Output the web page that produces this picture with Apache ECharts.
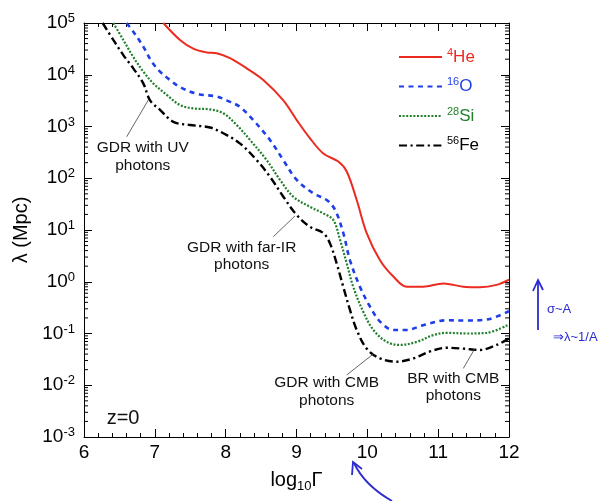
<!DOCTYPE html>
<html><head><meta charset="utf-8">
<script src="https://cdn.jsdelivr.net/npm/echarts@6/dist/echarts.min.js"></script>
<style>html,body{margin:0;padding:0;background:#fff}#c{width:613px;height:501px}</style>
</head><body><div id="c"></div>
<script>
// ---- data (x = log10 Gamma, y = lambda in Mpc) ----
const heX = [7.12, 7.355, 7.543, 7.732, 7.873, 8.061, 8.297, 8.531, 8.814, 9.003, 9.191, 9.379, 9.59, 9.709, 9.85, 9.991, 10.179, 10.367, 10.556, 10.79, 11.073, 11.355, 11.59, 11.826, 12.0];
const heY = [1e5, 4.7e4, 3.2e4, 2.7e4, 2.6e4, 2.1e4, 1.33e4, 7.9e3, 3.2e3, 1.33e3, 590, 300, 210, 135, 38, 8.7, 2.6, 1.26, 0.8, 0.8, 0.93, 0.8, 0.78, 0.87, 1.1];

const oX = [6.603, 6.696, 6.837, 6.955, 7.073, 7.214, 7.355, 7.59, 7.873, 8.014, 8.2, 8.39, 8.626, 8.814, 9.003, 9.238, 9.426, 9.544, 9.661, 9.755, 9.897, 10.038, 10.179, 10.367, 10.556, 10.79, 11.12, 11.4, 11.685, 12.0];
const oY = [1e5, 6.8e4, 3.5e4, 1.8e4, 1.15e4, 7.9e3, 5.8e3, 4.3e3, 3.8e3, 3.2e3, 2.4e3, 1.33e3, 550, 224, 93, 51, 38, 24.5, 8.7, 2.6, 0.79, 0.33, 0.17, 0.117, 0.117, 0.145, 0.18, 0.178, 0.186, 0.27];

const siX = [6.414, 6.555, 6.696, 6.837, 6.978, 7.167, 7.355, 7.543, 7.779, 7.967, 8.155, 8.344, 8.579, 8.767, 8.955, 9.191, 9.379, 9.52, 9.614, 9.709, 9.802, 9.944, 10.085, 10.273, 10.46, 10.697, 10.932, 11.12, 11.4, 11.685, 12.0];
const siY = [1e5, 4.7e4, 2.2e4, 1.15e4, 6.8e3, 4.1e3, 2.6e3, 2.24e3, 2.14e3, 1.8e3, 1.07e3, 550, 224, 93, 44, 28, 21, 15.5, 6.5, 2.26, 0.79, 0.26, 0.117, 0.069, 0.06, 0.069, 0.093, 0.103, 0.1, 0.103, 0.15];

const feX = [6.264, 6.414, 6.555, 6.696, 6.837, 6.932, 7.073, 7.261, 7.497, 7.779, 7.967, 8.2, 8.438, 8.626, 8.814, 9.003, 9.191, 9.379, 9.473, 9.567, 9.661, 9.755, 9.85, 9.991, 10.179, 10.415, 10.65, 10.885, 11.12, 11.355, 11.59, 11.826, 12.0];
const feY = [1e5, 4.7e4, 2.4e4, 1.33e4, 6.8e3, 3.2e3, 2.1e3, 1.23e3, 1.07e3, 955, 740, 473, 224, 107, 44, 19.5, 11.5, 8.7, 5.5, 2.26, 0.79, 0.285, 0.117, 0.051, 0.033, 0.0285, 0.033, 0.045, 0.053, 0.051, 0.048, 0.06, 0.08];

const seriesNames = ['4He', '16O', '28Si', '56Fe'];
const legendMass = ['4', '16', '28', '56'];
const legendElem = ['He', 'O', 'Si', 'Fe'];

const xTicks = [6, 7, 8, 9, 10, 11, 12];
const yExponents = [-3, -2, -1, 0, 1, 2, 3, 4, 5];

// annotations: text centre (data coords) and leader line ends (data coords)
const annText = ['GDR with UV\nphotons', 'GDR with far-IR\nphotons', 'GDR with CMB\nphotons', 'BR with CMB\nphotons'];
const annX = [6.829, 8.226, 9.426, 11.214];
const annY = [258, 3.1, 0.0075, 0.00925];
const leadX1 = [6.603, 8.673, 9.709, 11.355];
const leadY1 = [635, 7.43, 0.0158, 0.0212];
const leadX2 = [6.908, 8.979, 10.085, 11.52];
const leadY2 = [3250, 18.7, 0.0402, 0.0518];
const zLabel = 'z=0';
const zX = 6.32, zY = 0.00233;

// ---- build ----
const FONT = 'Liberation Sans, Arial, Helvetica, sans-serif';
const colors = ['#ec2b20', '#1f3fe8', '#22802c', '#000000'];
const pairs = (xs, ys) => xs.map((x, i) => [x, ys[i]]);
const seriesData = [pairs(heX, heY), pairs(oX, oY), pairs(siX, siY), pairs(feX, feY)];
const dashes = ['solid', [5, 4.5], [2, 1.6], [8, 3.5, 2.2, 3.5]];
const widths = [2, 2.6, 2.2, 2.4];

const minorVals = [];
for (let e = yExponents[0]; e < yExponents[yExponents.length - 1]; e++) {
  for (let m = 2; m <= 9; m++) minorVals.push([6, m * Math.pow(10, e)]);
}

const legendRich = {};
colors.forEach((c, i) => {
  legendRich['s' + i] = { color: c, fontSize: 11, fontFamily: FONT, verticalAlign: 'top', lineHeight: 11 };
  legendRich['m' + i] = { color: c, fontSize: 17, fontFamily: FONT, lineHeight: 20 };
});

const lineSeries = seriesNames.map((n, i) => ({
  name: n, type: 'line', data: seriesData[i], showSymbol: false, symbol: 'none',
  smooth: 0.35, clip: true,
  lineStyle: { color: colors[i], width: widths[i], type: dashes[i] },
  itemStyle: { color: colors[i] },
  z: 5 - i
}));

const xAxisBase = {
  type: 'value', min: 6, max: 12, interval: 1,
  axisLine: { lineStyle: { color: '#000', width: 1 } },
  axisTick: { inside: true, length: 8, lineStyle: { color: '#000' } },
  minorTick: { show: true, splitNumber: 5, length: 4, lineStyle: { color: '#000' } },
  splitLine: { show: false }
};
const yAxisBase = {
  type: 'log', logBase: 10, min: 1e-3, max: 1e5, interval: 1,
  axisLine: { show: true, lineStyle: { color: '#000', width: 1 } },
  axisTick: { show: true, inside: true, length: 8, lineStyle: { color: '#000' } },
  splitLine: { show: false }
};

const option = {
  animation: false,
  backgroundColor: '#fff',
  grid: { left: 84, right: 104, top: 23, bottom: 64 },
  xAxis: [
    Object.assign({}, xAxisBase, {
      position: 'bottom',
      axisLabel: { fontSize: 19, color: '#000', fontFamily: FONT, margin: 6,
        formatter: v => (xTicks.indexOf(v) >= 0 ? String(v) : '') },
      name: 'log{sub|10}Γ', nameLocation: 'middle', nameGap: 30,
      nameTextStyle: { fontSize: 20, color: '#000', fontFamily: FONT, lineHeight: 26,
        rich: { sub: { fontSize: 13, fontFamily: FONT, color: '#000', verticalAlign: 'bottom', lineHeight: 13 } } }
    }),
    Object.assign({}, xAxisBase, { position: 'top', axisLabel: { show: false } })
  ],
  yAxis: [
    Object.assign({}, yAxisBase, {
      position: 'left',
      axisLabel: { fontSize: 19, color: '#000', fontFamily: FONT, margin: 9, lineHeight: 22,
        formatter: v => '10{sup|' + Math.round(Math.log10(v)) + '}',
        rich: { sup: { fontSize: 13, fontFamily: FONT, color: '#000', verticalAlign: 'top', lineHeight: 13 } } },
      name: 'λ (Mpc)', nameLocation: 'middle', nameGap: 50, nameRotate: 90,
      nameTextStyle: { fontSize: 20, color: '#000', fontFamily: FONT }
    }),
    Object.assign({}, yAxisBase, { position: 'right', axisLabel: { show: false } })
  ],
  legend: {
    data: seriesNames, orient: 'vertical', left: 393, top: 42,
    itemWidth: 43, itemHeight: 14, itemGap: 11,
    itemStyle: { opacity: 0, borderWidth: 0 },
    formatter: name => { const i = seriesNames.indexOf(name); return '{s' + i + '|' + legendMass[i] + '}{m' + i + '|' + legendElem[i] + '}'; },
    textStyle: { rich: legendRich, fontFamily: FONT },
    selectedMode: false
  },
  series: lineSeries.concat([
    {
      type: 'custom', name: 'minorY', silent: true, data: minorVals, z: 10,
      renderItem: (params, api) => {
        const v = api.value(1);
        const l = api.coord([6, v]); const r = api.coord([12, v]);
        return { type: 'group', children: [
          { type: 'line', shape: { x1: l[0], y1: l[1], x2: l[0] + 4, y2: l[1] }, style: { stroke: '#000', lineWidth: 1 } },
          { type: 'line', shape: { x1: r[0] - 4, y1: r[1], x2: r[0], y2: r[1] }, style: { stroke: '#000', lineWidth: 1 } }
        ] };
      }
    },
    {
      type: 'custom', name: 'annotations', silent: true, z: 10,
      data: annX.map((x, i) => [x, annY[i]]),
      renderItem: (params, api) => {
        const i = params.dataIndex;
        const c = api.coord([annX[i], annY[i]]);
        const a = api.coord([leadX1[i], leadY1[i]]);
        const b = api.coord([leadX2[i], leadY2[i]]);
        return { type: 'group', children: [
          { type: 'line', shape: { x1: a[0], y1: a[1], x2: b[0], y2: b[1] }, style: { stroke: '#555', lineWidth: 0.9 } },
          { type: 'text', x: c[0], y: c[1], style: { text: annText[i], fontSize: 15.5, fontFamily: FONT, fill: '#111',
            align: 'center', verticalAlign: 'middle', lineHeight: 17.5 } }
        ] };
      }
    },
    {
      type: 'custom', name: 'zlabel', silent: true, z: 10,
      data: [[zX, zY]],
      renderItem: (params, api) => {
        const c = api.coord([api.value(0), api.value(1)]);
        return { type: 'text', x: c[0], y: c[1], style: { text: zLabel, fontSize: 20, fontFamily: FONT, fill: '#111',
          align: 'left', verticalAlign: 'middle' } };
      }
    }
  ]),
  graphic: [
    // handwritten notes in the margin of the reference
    { type: 'polyline', shape: { points: [[538, 330], [538, 281]] }, style: { stroke: '#2b2bd0', lineWidth: 1.8, fill: null } },
    { type: 'polyline', shape: { points: [[533, 291], [538, 280], [543, 290]] }, style: { stroke: '#2b2bd0', lineWidth: 1.8, fill: null } },
    { type: 'text', x: 547, y: 309, style: { text: 'σ~A', fontSize: 13, fontFamily: FONT, fill: '#2b2bd0', verticalAlign: 'middle' } },
    { type: 'text', x: 553, y: 337, style: { text: '⇒λ~1/A', fontSize: 13, fontFamily: FONT, fill: '#2b2bd0', verticalAlign: 'middle' } },
    { type: 'bezierCurve', shape: { x1: 354, y1: 463, cpx1: 362, cpy1: 480, x2: 392, y2: 501, cpx2: 378, cpy2: 493 }, style: { stroke: '#2b2bd0', lineWidth: 1.8, fill: null } },
    { type: 'polyline', shape: { points: [[362, 469], [353, 462], [352, 475]] }, style: { stroke: '#2b2bd0', lineWidth: 1.8, fill: null } }
  ]
};

const chart = echarts.init(document.getElementById('c'), null, { renderer: 'canvas' });
chart.setOption(option);
</script>
</body></html>
